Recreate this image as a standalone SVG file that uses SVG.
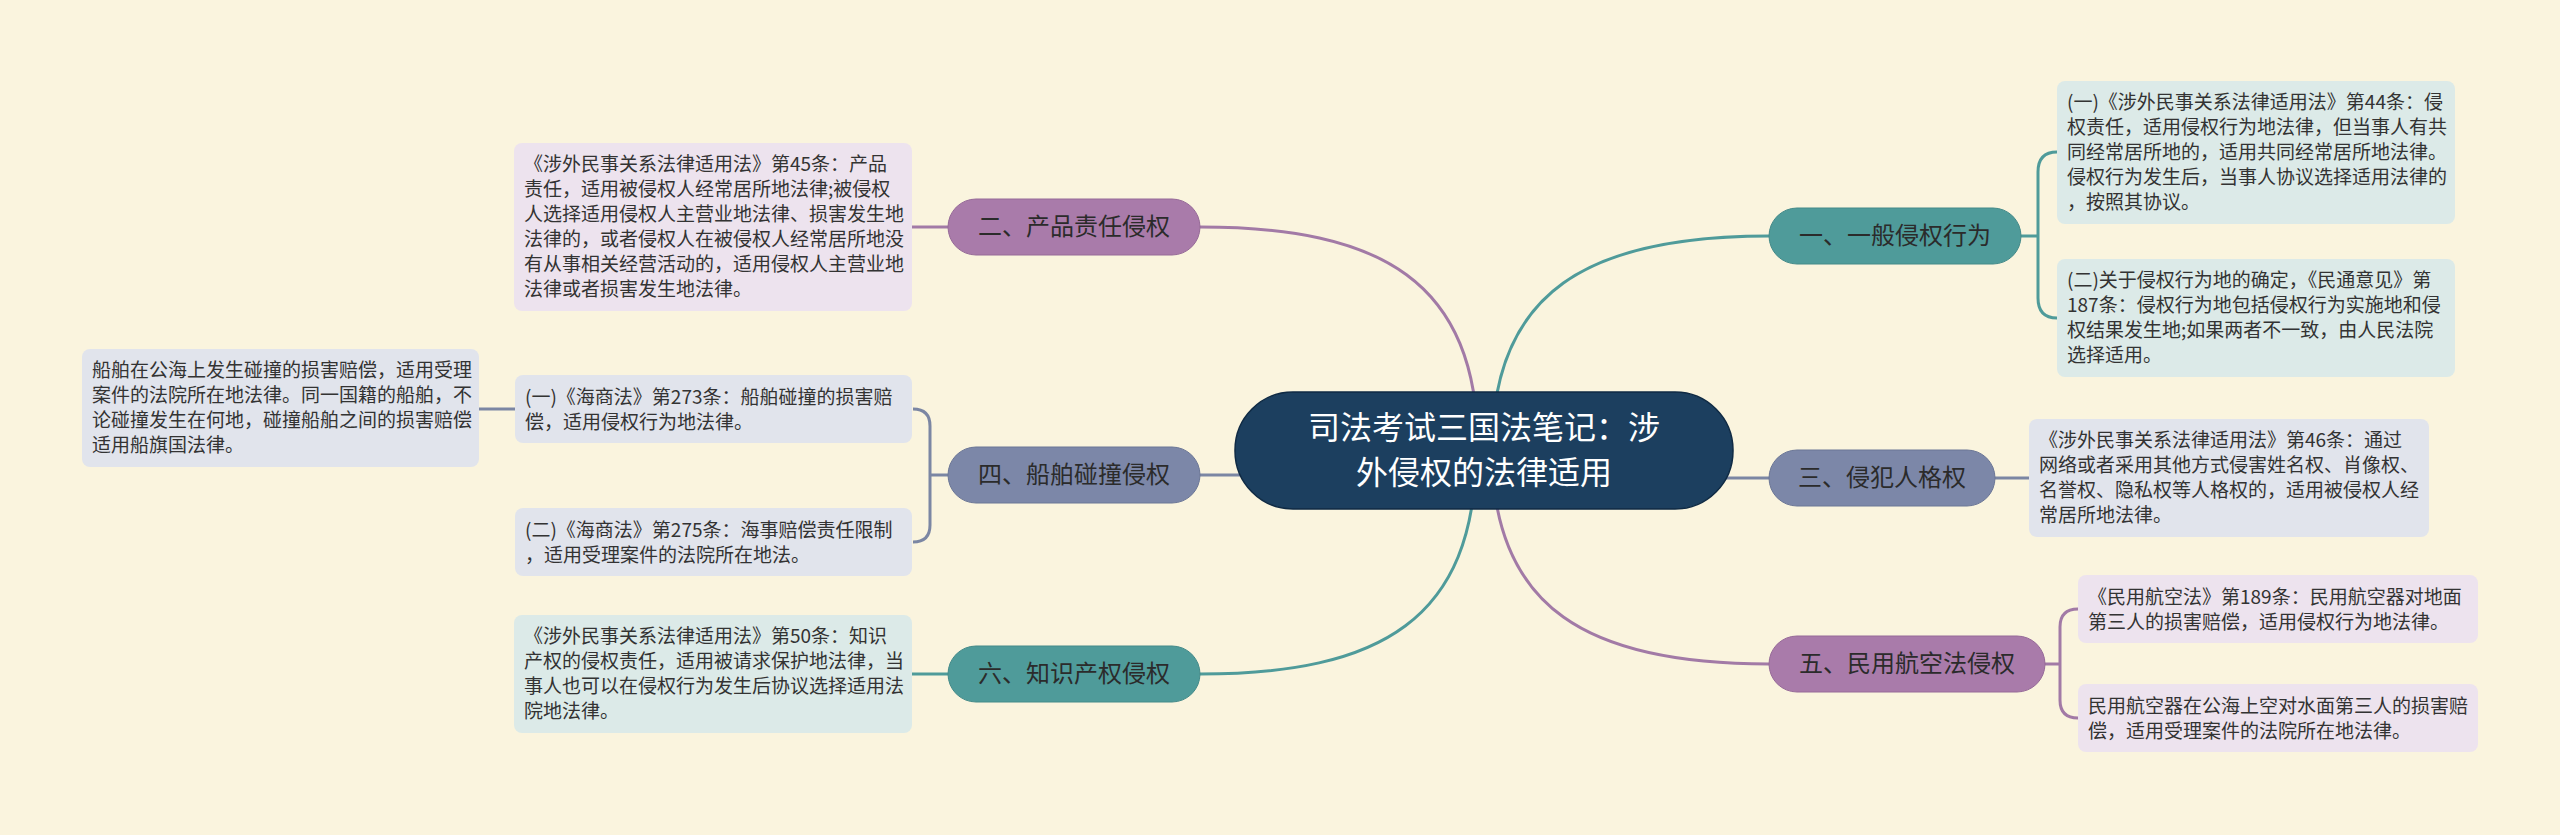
<svg xmlns="http://www.w3.org/2000/svg" width="2560" height="835" viewBox="0 0 2560 835">
<style>
text{font-family:"Noto Sans CJK SC","Noto Sans",sans-serif;}
.leaf text{font-size:19px;fill:#333333;}
.br text{font-size:24px;fill:#2b2b2b;text-anchor:middle;}
.ct{font-size:32px;fill:#ffffff;text-anchor:middle;}
.lt{fill:#DCEAE8;}
.lp{fill:#EDE3EE;}
.ls{fill:#E1E4EC;}
.nt{fill:#4F9B9A;stroke:#448a89;stroke-width:1;}
.np{fill:#A97BAA;stroke:#966a98;stroke-width:1;}
.ns{fill:#7C87A8;stroke:#6b7696;stroke-width:1;}
.ct-line{fill:none;stroke-width:3;}
.ct-t{stroke:#4F9B9A;}
.ct-p{stroke:#A27AA6;}
.ct-s{stroke:#7B86A3;}
</style>
<rect x="0" y="0" width="2560" height="835" fill="#FAF4DE"/>
<g id="connectors" fill="none" stroke-width="3">
  <path class="ct-p" d="M1200 227 C1380 227 1478 280 1478 450" stroke="#A27AA6"/>
  <path class="ct-t" d="M1769 236 C1590 236 1492 290 1492 450" stroke="#4F9B9A"/>
  <path class="ct-p" d="M1769 664 C1590 664 1492 610 1492 450" stroke="#A27AA6"/>
  <path class="ct-t" d="M1200 674 C1380 674 1476 620 1476 450" stroke="#4F9B9A"/>
  <path d="M1200 475 L1300 475" stroke="#7B86A3"/>
  <path d="M1680 478 L1769 478" stroke="#7B86A3"/>
  <path d="M948 227 L912 227" stroke="#A27AA6"/>
  <path d="M948 475 H930 M913 409 Q930 409 930 426 V525 Q930 542 913 542" stroke="#7B86A3"/>
  <path d="M515 409 L479 409" stroke="#7B86A3"/>
  <path d="M948 674 L912 674" stroke="#4F9B9A"/>
  <path d="M2021 236 H2038 M2057 152 Q2038 152 2038 172 V298 Q2038 318 2057 318" stroke="#4F9B9A"/>
  <path d="M1995 478 L2029 478" stroke="#7B86A3"/>
  <path d="M2045 664 H2060 M2078 609 Q2060 609 2060 627 V700 Q2060 718 2078 718" stroke="#A27AA6"/>
</g>
<g id="center">
  <rect x="1235" y="392" width="498" height="117" rx="58" fill="#1C3F5F" stroke="#0F2A44" stroke-width="1.5"/>
  <text class="ct" x="1484" y="439">司法考试三国法笔记：涉</text>
  <text class="ct" x="1484" y="484">外侵权的法律适用</text>
</g>
<g id="b1" class="br">
  <rect class="nt" x="1769" y="208" width="252" height="56" rx="28"/>
  <text x="1895" y="244">一、一般侵权行为</text>
</g>
<g id="b2" class="br">
  <rect class="np" x="948" y="199" width="252" height="56" rx="28"/>
  <text x="1074" y="235">二、产品责任侵权</text>
</g>
<g id="b3" class="br">
  <rect class="ns" x="1769" y="450" width="226" height="56" rx="28"/>
  <text x="1882" y="486">三、侵犯人格权</text>
</g>
<g id="b4" class="br">
  <rect class="ns" x="948" y="447" width="252" height="56" rx="28"/>
  <text x="1074" y="483">四、船舶碰撞侵权</text>
</g>
<g id="b5" class="br">
  <rect class="np" x="1769" y="636" width="276" height="56" rx="28"/>
  <text x="1907" y="672">五、民用航空法侵权</text>
</g>
<g id="b6" class="br">
  <rect class="nt" x="948" y="646" width="252" height="56" rx="28"/>
  <text x="1074" y="682">六、知识产权侵权</text>
</g>
<g id="l1a" class="leaf">
  <rect class="lt" x="2057" y="81" width="398" height="143" rx="8"/>
  <text x="2067" y="109">(一)《涉外民事关系法律适用法》第44条：侵</text>
  <text x="2067" y="134">权责任，适用侵权行为地法律，但当事人有共</text>
  <text x="2067" y="159">同经常居所地的，适用共同经常居所地法律。</text>
  <text x="2067" y="184">侵权行为发生后，当事人协议选择适用法律的</text>
  <text x="2067" y="209">，按照其协议。</text>
</g>
<g id="l1b" class="leaf">
  <rect class="lt" x="2057" y="259" width="398" height="118" rx="8"/>
  <text x="2067" y="287">(二)关于侵权行为地的确定，《民通意见》第</text>
  <text x="2067" y="312">187条：侵权行为地包括侵权行为实施地和侵</text>
  <text x="2067" y="337">权结果发生地;如果两者不一致，由人民法院</text>
  <text x="2067" y="362">选择适用。</text>
</g>
<g id="l2" class="leaf">
  <rect class="lp" x="514" y="143" width="398" height="168" rx="8"/>
  <text x="524" y="171">《涉外民事关系法律适用法》第45条：产品</text>
  <text x="524" y="196">责任，适用被侵权人经常居所地法律;被侵权</text>
  <text x="524" y="221">人选择适用侵权人主营业地法律、损害发生地</text>
  <text x="524" y="246">法律的，或者侵权人在被侵权人经常居所地没</text>
  <text x="524" y="271">有从事相关经营活动的，适用侵权人主营业地</text>
  <text x="524" y="296">法律或者损害发生地法律。</text>
</g>
<g id="l3" class="leaf">
  <rect class="ls" x="2029" y="419" width="400" height="118" rx="8"/>
  <text x="2039" y="447">《涉外民事关系法律适用法》第46条：通过</text>
  <text x="2039" y="472">网络或者采用其他方式侵害姓名权、肖像权、</text>
  <text x="2039" y="497">名誉权、隐私权等人格权的，适用被侵权人经</text>
  <text x="2039" y="522">常居所地法律。</text>
</g>
<g id="l4a" class="leaf">
  <rect class="ls" x="515" y="375" width="397" height="68" rx="8"/>
  <text x="525" y="404">(一)《海商法》第273条：船舶碰撞的损害赔</text>
  <text x="525" y="429">偿，适用侵权行为地法律。</text>
</g>
<g id="l4a1" class="leaf">
  <rect class="ls" x="82" y="349" width="397" height="118" rx="8"/>
  <text x="92" y="377">船舶在公海上发生碰撞的损害赔偿，适用受理</text>
  <text x="92" y="402">案件的法院所在地法律。同一国籍的船舶，不</text>
  <text x="92" y="427">论碰撞发生在何地，碰撞船舶之间的损害赔偿</text>
  <text x="92" y="452">适用船旗国法律。</text>
</g>
<g id="l4b" class="leaf">
  <rect class="ls" x="515" y="508" width="397" height="68" rx="8"/>
  <text x="525" y="537">(二)《海商法》第275条：海事赔偿责任限制</text>
  <text x="525" y="562">，适用受理案件的法院所在地法。</text>
</g>
<g id="l5a" class="leaf">
  <rect class="lp" x="2078" y="575" width="400" height="68" rx="8"/>
  <text x="2088" y="604">《民用航空法》第189条：民用航空器对地面</text>
  <text x="2088" y="629">第三人的损害赔偿，适用侵权行为地法律。</text>
</g>
<g id="l5b" class="leaf">
  <rect class="lp" x="2078" y="684" width="400" height="68" rx="8"/>
  <text x="2088" y="713">民用航空器在公海上空对水面第三人的损害赔</text>
  <text x="2088" y="738">偿，适用受理案件的法院所在地法律。</text>
</g>
<g id="l6" class="leaf">
  <rect class="lt" x="514" y="615" width="398" height="118" rx="8"/>
  <text x="524" y="643">《涉外民事关系法律适用法》第50条：知识</text>
  <text x="524" y="668">产权的侵权责任，适用被请求保护地法律，当</text>
  <text x="524" y="693">事人也可以在侵权行为发生后协议选择适用法</text>
  <text x="524" y="718">院地法律。</text>
</g>
</svg>
